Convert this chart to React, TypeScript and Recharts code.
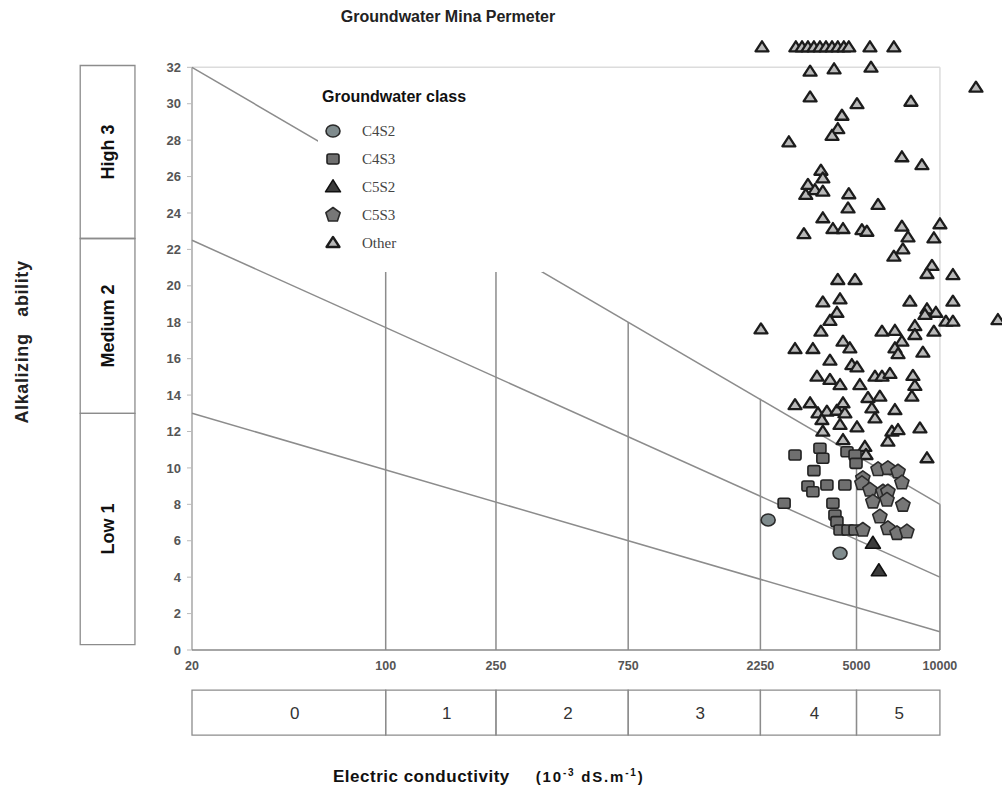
import React from "react";
import {
  ScatterChart,
  Scatter,
  XAxis,
  YAxis,
  ReferenceLine,
  ReferenceArea,
  Legend,
} from "recharts";

const FONT = "'Liberation Sans', Arial, sans-serif";

const ecTicks = [20, 100, 250, 750, 2250, 5000, 10000];
const alkTicks = [0, 2, 4, 6, 8, 10, 12, 14, 16, 18, 20, 22, 24, 26, 28, 30, 32];

const ecClassLabels = ["0", "1", "2", "3", "4", "5"];
const alkClassLabels = ["Low 1", "Medium 2", "High 3"];
const alkClassBounds = [0.3, 13, 22.6, 32.1];

// boundary lines: alkalizing ability read at EC = 20 and at EC = 10000
const lineAt20 = [32, 22.5, 13];
const lineAt10000 = [8, 4, 1];
// top of the vertical EC dividers (100 ... 10000)
const dividerTop = [25.8, 22.3, 18, 13.8, 10.7, 8];

const legendNames = ["C4S2", "C4S3", "C5S2", "C5S3", "Other"];

const c4s2 = [
  { ec: 2400, alk: 7.14 },
  { ec: 4360, alk: 5.31 },
];

const c4s3 = [
  { ec: 3000, alk: 10.71 }, { ec: 3690, alk: 11.08 }, { ec: 3780, alk: 10.53 },
  { ec: 4620, alk: 10.89 }, { ec: 4940, alk: 10.71 }, { ec: 4980, alk: 10.25 },
  { ec: 3510, alk: 9.85 }, { ec: 3340, alk: 9.01 }, { ec: 3480, alk: 8.69 },
  { ec: 3910, alk: 9.06 }, { ec: 4540, alk: 9.06 }, { ec: 2740, alk: 8.06 },
  { ec: 4110, alk: 8.06 }, { ec: 4180, alk: 7.41 }, { ec: 4250, alk: 7.05 },
  { ec: 4360, alk: 6.59 }, { ec: 4660, alk: 6.59 }, { ec: 4940, alk: 6.59 },
];

const c5s2 = [
  { ec: 5730, alk: 5.85 },
  { ec: 6020, alk: 4.34 },
];

const c5s3 = [
  { ec: 5980, alk: 9.92 }, { ec: 6490, alk: 9.98 }, { ec: 7060, alk: 9.79 },
  { ec: 7290, alk: 9.19 }, { ec: 5270, alk: 9.43 }, { ec: 5230, alk: 9.15 },
  { ec: 5590, alk: 8.79 }, { ec: 6230, alk: 8.69 }, { ec: 6490, alk: 8.69 },
  { ec: 5730, alk: 8.14 }, { ec: 6440, alk: 8.24 }, { ec: 7350, alk: 7.96 },
  { ec: 6070, alk: 7.32 }, { ec: 5270, alk: 6.59 }, { ec: 6490, alk: 6.68 },
  { ec: 7000, alk: 6.41 }, { ec: 7600, alk: 6.5 },
];

const other = [
  // row plotted above the 32 line
  { ec: 2280, alk: 33.1 }, { ec: 3020, alk: 33.1 }, { ec: 3180, alk: 33.1 },
  { ec: 3340, alk: 33.1 }, { ec: 3510, alk: 33.1 }, { ec: 3690, alk: 33.1 },
  { ec: 3880, alk: 33.1 }, { ec: 4080, alk: 33.1 }, { ec: 4280, alk: 33.1 },
  { ec: 4500, alk: 33.1 }, { ec: 4690, alk: 33.1 }, { ec: 5590, alk: 33.1 },
  { ec: 6820, alk: 33.1 },
  { ec: 3400, alk: 31.76 }, { ec: 4150, alk: 31.89 }, { ec: 5640, alk: 31.98 },
  { ec: 13490, alk: 30.88 }, { ec: 3400, alk: 30.35 }, { ec: 5020, alk: 29.98 },
  { ec: 7860, alk: 30.11 }, { ec: 4430, alk: 29.34 }, { ec: 4280, alk: 28.61 },
  { ec: 4080, alk: 28.24 }, { ec: 2850, alk: 27.88 }, { ec: 7290, alk: 27.06 },
  { ec: 8610, alk: 26.63 }, { ec: 3720, alk: 26.32 }, { ec: 3780, alk: 25.9 },
  { ec: 3340, alk: 25.54 }, { ec: 3280, alk: 24.99 }, { ec: 3540, alk: 25.26 },
  { ec: 3780, alk: 25.17 }, { ec: 4690, alk: 25.03 }, { ec: 4660, alk: 24.25 },
  { ec: 5980, alk: 24.44 }, { ec: 3780, alk: 23.71 }, { ec: 3230, alk: 22.84 },
  { ec: 4110, alk: 23.12 }, { ec: 4470, alk: 23.12 }, { ec: 5230, alk: 23.06 },
  { ec: 5450, alk: 22.97 }, { ec: 7290, alk: 23.25 }, { ec: 7670, alk: 22.66 },
  { ec: 10000, alk: 23.38 }, { ec: 9510, alk: 22.61 }, { ec: 7350, alk: 22.0 },
  { ec: 6820, alk: 21.6 }, { ec: 9360, alk: 21.09 }, { ec: 8980, alk: 20.65 },
  { ec: 4280, alk: 20.32 }, { ec: 4940, alk: 20.32 }, { ec: 3780, alk: 19.09 },
  { ec: 4360, alk: 19.26 }, { ec: 4250, alk: 18.52 }, { ec: 4010, alk: 18.08 },
  { ec: 2260, alk: 17.61 }, { ec: 3720, alk: 17.48 }, { ec: 3000, alk: 16.53 },
  { ec: 3480, alk: 16.53 }, { ec: 4470, alk: 16.93 }, { ec: 4730, alk: 16.57 },
  { ec: 4010, alk: 15.89 }, { ec: 4810, alk: 15.65 }, { ec: 5020, alk: 15.52 },
  { ec: 3600, alk: 15.01 }, { ec: 4010, alk: 14.83 }, { ec: 4360, alk: 14.55 },
  { ec: 5140, alk: 14.55 }, { ec: 5830, alk: 15.01 },
  { ec: 11140, alk: 20.59 }, { ec: 7790, alk: 19.13 }, { ec: 11140, alk: 19.13 },
  { ec: 8980, alk: 18.71 }, { ec: 9670, alk: 18.52 }, { ec: 8830, alk: 18.4 },
  { ec: 10510, alk: 18.03 }, { ec: 11140, alk: 18.03 }, { ec: 16190, alk: 18.12 },
  { ec: 6180, alk: 17.48 }, { ec: 6880, alk: 17.53 }, { ec: 8120, alk: 17.79 },
  { ec: 8120, alk: 17.3 }, { ec: 9510, alk: 17.48 }, { ec: 7290, alk: 16.93 },
  { ec: 6880, alk: 16.57 }, { ec: 7060, alk: 16.25 }, { ec: 8680, alk: 16.33 },
  { ec: 6180, alk: 15.01 }, { ec: 6600, alk: 15.16 }, { ec: 7990, alk: 15.05 },
  { ec: 8120, alk: 14.5 },
  { ec: 3000, alk: 13.45 }, { ec: 3400, alk: 13.55 }, { ec: 3630, alk: 13.0 },
  { ec: 3910, alk: 13.09 }, { ec: 4250, alk: 13.14 }, { ec: 4470, alk: 13.55 },
  { ec: 4540, alk: 13.0 }, { ec: 3750, alk: 12.63 }, { ec: 3780, alk: 11.99 },
  { ec: 4360, alk: 12.36 }, { ec: 5020, alk: 12.23 }, { ec: 5500, alk: 13.84 },
  { ec: 4470, alk: 11.53 }, { ec: 5360, alk: 11.16 }, { ec: 5410, alk: 10.71 },
  { ec: 6070, alk: 13.91 }, { ec: 7920, alk: 13.91 }, { ec: 5680, alk: 13.27 },
  { ec: 5830, alk: 12.72 }, { ec: 6880, alk: 13.18 }, { ec: 6710, alk: 11.99 },
  { ec: 7060, alk: 12.08 }, { ec: 6490, alk: 11.44 }, { ec: 8470, alk: 12.17 },
  { ec: 8980, alk: 10.53 },
];

const triPath = (cx: number, cy: number, w: number, h: number) =>
  `M${cx},${cy - h * 0.6} L${cx + w / 2},${cy + h * 0.4} L${cx - w / 2},${cy + h * 0.4} Z`;

const pentPath = (cx: number, cy: number, r: number) => {
  const pts = [0, 1, 2, 3, 4].map((i) => {
    const a = -Math.PI / 2 + (i * 2 * Math.PI) / 5;
    return `${cx + r * Math.cos(a)},${cy + r * Math.sin(a)}`;
  });
  return `M${pts.join(" L")} Z`;
};

const symbol = (name: string, cx: number, cy: number) => {
  switch (name) {
    case "C4S2":
      return <ellipse cx={cx} cy={cy} rx={7} ry={6} fill="#7f8b8d" stroke="#2a2a2a" strokeWidth={1.6} />;
    case "C4S3":
      return <rect x={cx - 6} y={cy - 5} width={12} height={10} rx={2} fill="#6f6f6f" stroke="#222" strokeWidth={1.6} />;
    case "C5S2":
      return <path d={triPath(cx, cy, 15, 12)} fill="#3c3c3c" stroke="#111" strokeWidth={1.6} strokeLinejoin="round" />;
    case "C5S3":
      return <path d={pentPath(cx, cy, 7.5)} fill="#777" stroke="#2a2a2a" strokeWidth={1.6} strokeLinejoin="round" />;
    default:
      return <path d={triPath(cx, cy, 13, 10)} fill="#b9b9b9" stroke="#1c1c1c" strokeWidth={2.3} strokeLinejoin="round" />;
  }
};

const shapeFor = (name: string) => (p: any) => symbol(name, p.cx, p.cy);

const GroupLegend = () => (
  <div style={{ fontFamily: FONT }}>
    <div style={{ height: 34, lineHeight: "34px", paddingLeft: 4, fontWeight: "bold", fontSize: 16, color: "#111" }}>
      Groundwater class
    </div>
    <div style={{ marginTop: 3 }}>
      {legendNames.map((n) => (
        <div key={n} style={{ height: 28, display: "flex", alignItems: "center" }}>
          <svg width={44} height={28} style={{ flex: "none" }}>
            {symbol(n, 15, 14)}
          </svg>
          <span style={{ fontFamily: "'Liberation Serif', 'Times New Roman', serif", fontSize: 15, color: "#444" }}>{n}</span>
        </div>
      ))}
    </div>
  </div>
);

const lineStroke = "#8c8c8c";

export default function App() {
  return (
    <div style={{ position: "absolute", left: 0, top: 0, width: 1002, height: 787, background: "#fff", fontFamily: FONT, overflow: "hidden" }}>
      <div style={{ position: "absolute", left: 0, top: 0 }}>
        <ScatterChart width={1002} height={787} margin={{ top: 40, right: 0, bottom: 107, left: 142 }}>
          <XAxis
            dataKey="ec"
            type="number"
            scale="log"
            domain={[20, 16750]}
            allowDataOverflow
            ticks={ecTicks}
            interval={0}
            axisLine={false}
            tickLine={false}
            tickMargin={5}
            height={30}
            tick={{ fill: "#555", fontSize: 12.5, fontWeight: "bold", fontFamily: FONT }}
          />
          <YAxis
            dataKey="alk"
            type="number"
            domain={[0, 33.5]}
            allowDataOverflow
            ticks={alkTicks}
            interval={0}
            width={50}
            axisLine={false}
            tickLine={{ stroke: "#bbb" }}
            tickSize={5}
            tickMargin={6}
            tick={{ fill: "#555", fontSize: 13, fontWeight: "bold", fontFamily: FONT }}
          />

          {/* plot frame */}
          <ReferenceLine segment={[{ x: 20, y: 32 }, { x: 10000, y: 32 }]} stroke="#dcdcdc" strokeWidth={1.5} />
          <ReferenceLine segment={[{ x: 10000, y: 0 }, { x: 10000, y: 32 }]} stroke="#dcdcdc" strokeWidth={1.5} />
          <ReferenceLine segment={[{ x: 20, y: 0 }, { x: 20, y: 32 }]} stroke="#999" strokeWidth={1.3} />
          <ReferenceLine segment={[{ x: 20, y: 0 }, { x: 10000, y: 0 }]} stroke="#888" strokeWidth={1.3} />

          {/* EC class dividers */}
          {ecTicks.slice(1).map((ec, i) => (
            <ReferenceLine key={"d" + ec} segment={[{ x: ec, y: 0 }, { x: ec, y: dividerTop[i] }]} stroke={lineStroke} strokeWidth={1.5} />
          ))}

          {/* alkalizing class boundary lines */}
          {lineAt20.map((v, i) => (
            <ReferenceLine key={"b" + i} segment={[{ x: 20, y: v }, { x: 10000, y: lineAt10000[i] }]} stroke={lineStroke} strokeWidth={1.5} />
          ))}

          {/* EC class boxes below the axis */}
          {ecClassLabels.map((lab, i) => (
            <ReferenceArea
              key={"e" + lab}
              x1={ecTicks[i]}
              x2={ecTicks[i + 1]}
              y1={-2.2}
              y2={-4.67}
              ifOverflow="visible"
              fill="#fff"
              fillOpacity={0}
              stroke="#8c8c8c"
              strokeWidth={1.3}
              label={{ value: lab, position: "center", dx: i < 5 ? 6 : 1, fill: "#333", fontSize: 17, fontFamily: FONT }}
            />
          ))}

          {/* alkalizing class boxes left of the axis */}
          {alkClassLabels.map((lab, i) => (
            <ReferenceArea
              key={"a" + lab}
              x1={7.9}
              x2={12.45}
              y1={alkClassBounds[i]}
              y2={alkClassBounds[i + 1]}
              ifOverflow="visible"
              fill="#fff"
              fillOpacity={0}
              stroke="#8c8c8c"
              strokeWidth={1.3}
              label={{ value: lab, position: "center", angle: -90, fill: "#111", fontSize: 18, fontWeight: "bold", fontFamily: FONT }}
            />
          ))}

          <Scatter name="Other" data={other} shape={shapeFor("Other")} isAnimationActive={false} />
          <Scatter name="C4S3" data={c4s3} shape={shapeFor("C4S3")} isAnimationActive={false} />
          <Scatter name="C5S3" data={c5s3} shape={shapeFor("C5S3")} isAnimationActive={false} />
          <Scatter name="C4S2" data={c4s2} shape={shapeFor("C4S2")} isAnimationActive={false} />
          <Scatter name="C5S2" data={c5s2} shape={shapeFor("C5S2")} isAnimationActive={false} />

          <Legend
            layout="vertical"
            align="center"
            verticalAlign="middle"
            wrapperStyle={{ left: 318, top: 80, width: 225, height: 192, background: "#fff" }}
            content={() => <GroupLegend />}
          />
        </ScatterChart>
      </div>

      <div style={{ position: "absolute", left: 0, top: 7, width: 896, textAlign: "center", fontWeight: "bold", fontSize: 16, lineHeight: "20px", color: "#222" }}>
        Groundwater Mina Permeter
      </div>

      <div
        style={{
          position: "absolute",
          left: 22,
          top: 342,
          transform: "translate(-50%, -50%) rotate(-90deg)",
          whiteSpace: "nowrap",
          fontWeight: "bold",
          fontSize: 18,
          letterSpacing: 0.6,
          color: "#222",
        }}
      >
        Alkalizing&nbsp;&nbsp; ability
      </div>

      <div style={{ position: "absolute", left: 333, top: 762, whiteSpace: "nowrap", color: "#111", fontWeight: "bold", lineHeight: "22px" }}>
        <span style={{ fontSize: 17, letterSpacing: 0.5 }}>Electric conductivity</span>
        <span style={{ fontSize: 15, letterSpacing: 1.8, marginLeft: 26 }}>
          (10<sup style={{ fontSize: 10 }}>-3</sup>&nbsp;dS.m<sup style={{ fontSize: 10 }}>-1</sup>)
        </span>
      </div>
    </div>
  );
}
